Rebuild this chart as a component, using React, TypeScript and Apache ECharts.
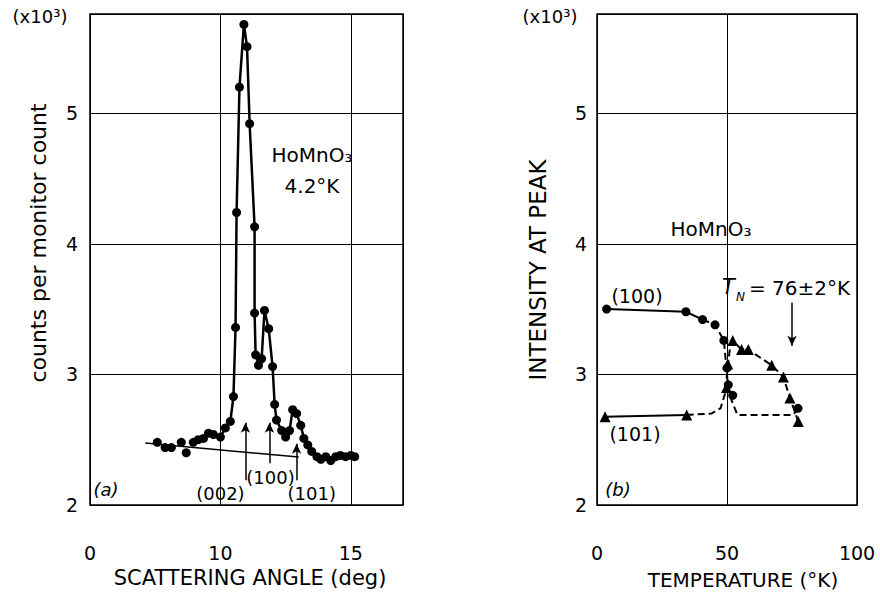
import React, { useEffect, useRef } from "react";
import * as echarts from "echarts";

// ---------- Panel (a): scattering scan ----------
const angleTickValues = [5, 10, 15];
const angleTickLabels = ["0", "10", "15"];
const intensityTickValues = [2, 3, 4, 5];

const scanAngle = [7.58, 7.88, 8.12, 8.5, 8.69, 8.96, 9.15, 9.35, 9.54, 9.73, 10.0, 10.19, 10.38, 10.5, 10.58, 10.62, 10.73, 10.9, 11.02, 11.12, 11.31, 11.31, 11.35, 11.46, 11.58, 11.69, 11.85, 12.0, 12.08, 12.15, 12.35, 12.5, 12.65, 12.77, 12.92, 13.08, 13.2, 13.35, 13.5, 13.7, 13.85, 14.04, 14.23, 14.42, 14.6, 14.8, 15.0, 15.15];
const scanCounts = [2.48, 2.44, 2.44, 2.48, 2.4, 2.48, 2.5, 2.51, 2.55, 2.54, 2.52, 2.59, 2.64, 2.83, 3.36, 4.24, 5.2, 5.68, 5.51, 4.92, 4.13, 3.47, 3.15, 3.07, 3.12, 3.49, 3.35, 3.06, 2.77, 2.65, 2.57, 2.52, 2.57, 2.73, 2.7, 2.61, 2.51, 2.46, 2.41, 2.37, 2.35, 2.37, 2.34, 2.37, 2.38, 2.37, 2.38, 2.37];

// hand-drawn curve through the scan (angle, counts)
const scanCurveAngle = [9.35, 9.54, 9.73, 10.0, 10.19, 10.38, 10.5, 10.58, 10.62, 10.73, 10.9, 11.02, 11.12, 11.31, 11.31, 11.35, 11.46, 11.58, 11.69, 11.85, 12.0, 12.08, 12.15, 12.35, 12.5, 12.65, 12.77, 12.92, 13.08, 13.2, 13.35, 13.5, 13.7, 13.85, 14.04, 14.23, 14.42, 14.6, 14.8, 15.0, 15.15];
const scanCurveCounts = [2.51, 2.55, 2.54, 2.52, 2.59, 2.64, 2.83, 3.36, 4.24, 5.2, 5.68, 5.51, 4.92, 4.13, 3.47, 3.15, 3.07, 3.12, 3.49, 3.35, 3.06, 2.77, 2.65, 2.57, 2.52, 2.57, 2.73, 2.7, 2.61, 2.51, 2.46, 2.41, 2.37, 2.35, 2.37, 2.34, 2.37, 2.38, 2.37, 2.38, 2.37];

const backgroundAngle = [7.12, 13.0];
const backgroundCounts = [2.474, 2.367];

const reflectionNames = ["(002)", "(100)", "(101)"];
const reflectionAngle = [10.96, 11.88, 12.92];
const reflectionArrowFrom = [2.19, 2.32, 2.19];
const reflectionArrowTo = [2.63, 2.63, 2.47];
const reflectionLabelAngle = [10.0, 11.92, 13.5];
const reflectionLabelCounts = [2.09, 2.21, 2.09];

// ---------- Panel (b): temperature dependence ----------
const tempTickValues = [0, 50, 100];

const temp100 = [3.7, 34.2, 40.6, 45.4, 48.8, 50.0, 50.5, 52.2, 77.3];
const peak100 = [3.5, 3.48, 3.42, 3.38, 3.26, 3.05, 2.92, 2.84, 2.74];
const temp101 = [3.1, 34.5, 49.8, 50.3, 52.2, 55.6, 58.2, 67.2, 71.7, 74.2, 77.4];
const peak101 = [2.675, 2.69, 2.9, 3.08, 3.26, 3.19, 3.19, 3.07, 2.98, 2.82, 2.64];

const curve100SolidT = [3.7, 34.2, 40.6];
const curve100SolidI = [3.5, 3.48, 3.42];
const curve100DashT = [40.6, 45.4, 48.8, 50.0, 50.6, 52.2, 54.0, 75.5, 77.3];
const curve100DashI = [3.42, 3.38, 3.26, 3.0, 2.86, 2.78, 2.69, 2.69, 2.74];
const curve101SolidT = [3.1, 34.5];
const curve101SolidI = [2.675, 2.69];
const curve101DashT = [34.5, 44.0, 47.5, 49.2, 50.0, 51.0, 52.2, 55.6, 58.2, 67.2, 71.7, 74.2, 77.4];
const curve101DashI = [2.69, 2.7, 2.74, 2.85, 3.0, 3.18, 3.26, 3.19, 3.19, 3.07, 2.98, 2.82, 2.64];

const neelTemp = 75;
const neelArrowFrom = 3.55;
const neelArrowTo = 3.22;

const zip = (a: number[], b: number[]) => a.map((v, i) => [v, b[i]]);

const FONT = "DejaVu Sans";

export default function App() {
  const ref = useRef<HTMLDivElement>(null);
  useEffect(() => {
    if (!ref.current) return;
    const chart = echarts.init(ref.current, null, { renderer: "svg" });

    const yAxisCommon = (gridIndex: number, margin: number) => ({
      type: "value",
      gridIndex,
      min: 2,
      max: 5.76,
      interval: 1,
      axisLine: { show: false },
      axisTick: { show: false },
      splitLine: { show: true, lineStyle: { color: "#000", width: 1 } },
      axisLabel: {
        margin,
        color: "#000",
        fontFamily: FONT,
        fontSize: 19,
        formatter: (v: number) => (intensityTickValues.includes(v) ? String(v) : ""),
      },
    });

    const text = (x: number, y: number, t: string, extra: any = {}) => ({
      type: "text",
      x,
      y,
      style: {
        text: t,
        fill: "#000",
        font: `${extra.italic ? "italic " : ""}${extra.size || 20}px "${FONT}"`,
        align: extra.align || "center",
        verticalAlign: "middle",
      },
      rotation: extra.rotation || 0,
    });

    chart.setOption({
      animation: false,
      backgroundColor: "#fff",
      grid: [
        { left: 90, top: 14, width: 313, height: 491, show: true, borderColor: "#000", borderWidth: 1.5 },
        { left: 597, top: 14, width: 260, height: 491, show: true, borderColor: "#000", borderWidth: 1.5 },
      ],
      xAxis: [
        {
          type: "value",
          gridIndex: 0,
          min: 5,
          max: 17,
          interval: 5,
          axisLine: { show: false },
          axisTick: { show: false },
          splitLine: { show: true, lineStyle: { color: "#000", width: 1 } },
          axisLabel: {
            margin: 38,
            color: "#000",
            fontFamily: FONT,
            fontSize: 19,
            formatter: (v: number) => {
              const i = angleTickValues.indexOf(v);
              return i >= 0 ? angleTickLabels[i] : "";
            },
          },
        },
        {
          type: "value",
          gridIndex: 1,
          min: 0,
          max: 100,
          interval: 50,
          axisLine: { show: false },
          axisTick: { show: false },
          splitLine: { show: true, lineStyle: { color: "#000", width: 1 } },
          axisLabel: {
            margin: 38,
            color: "#000",
            fontFamily: FONT,
            fontSize: 19,
            formatter: (v: number) => (tempTickValues.includes(v) ? String(v) : ""),
          },
        },
      ],
      yAxis: [yAxisCommon(0, 12), yAxisCommon(1, 10)],
      series: [
        {
          type: "line",
          xAxisIndex: 0,
          yAxisIndex: 0,
          data: zip(backgroundAngle, backgroundCounts),
          symbol: "none",
          lineStyle: { color: "#000", width: 1.5 },
          markLine: {
            silent: true,
            symbol: ["none", "arrow"],
            symbolSize: [7, 10],
            label: { show: false },
            lineStyle: { color: "#000", width: 1.5, type: "solid" },
            data: reflectionAngle.map((a, i) => [
              { coord: [a, reflectionArrowFrom[i]] },
              { coord: [a, reflectionArrowTo[i]] },
            ]),
          },
        },
        {
          type: "line",
          xAxisIndex: 0,
          yAxisIndex: 0,
          data: zip(scanCurveAngle, scanCurveCounts),
          symbol: "none",
          lineStyle: { color: "#000", width: 2.5 },
        },
        {
          type: "scatter",
          xAxisIndex: 0,
          yAxisIndex: 0,
          data: zip(scanAngle, scanCounts),
          symbol: "circle",
          symbolSize: 9,
          itemStyle: { color: "#000", opacity: 1 },
          z: 5,
        },
        {
          type: "scatter",
          xAxisIndex: 0,
          yAxisIndex: 0,
          data: reflectionNames.map((n, i) => ({ value: [reflectionLabelAngle[i], reflectionLabelCounts[i]], name: n })),
          symbolSize: 0,
          itemStyle: { opacity: 1 },
          label: {
            show: true,
            position: "inside",
            formatter: (p: any) => p.name,
            color: "#000",
            opacity: 1,
            fontFamily: FONT,
            fontSize: 18,
          },
        },
        // panel b
        {
          type: "line",
          xAxisIndex: 1,
          yAxisIndex: 1,
          data: zip(curve100SolidT, curve100SolidI),
          symbol: "none",
          lineStyle: { color: "#000", width: 2 },
        },
        {
          type: "line",
          xAxisIndex: 1,
          yAxisIndex: 1,
          data: zip(curve100DashT, curve100DashI),
          symbol: "none",
          lineStyle: { color: "#000", width: 2, type: [7, 4] },
        },
        {
          type: "line",
          xAxisIndex: 1,
          yAxisIndex: 1,
          data: zip(curve101SolidT, curve101SolidI),
          symbol: "none",
          lineStyle: { color: "#000", width: 2 },
        },
        {
          type: "line",
          xAxisIndex: 1,
          yAxisIndex: 1,
          data: zip(curve101DashT, curve101DashI),
          symbol: "none",
          lineStyle: { color: "#000", width: 2, type: [7, 4] },
          markLine: {
            silent: true,
            symbol: ["none", "arrow"],
            symbolSize: [7, 10],
            label: { show: false },
            lineStyle: { color: "#000", width: 1.5, type: "solid" },
            data: [[{ coord: [neelTemp, neelArrowFrom] }, { coord: [neelTemp, neelArrowTo] }]],
          },
        },
        {
          type: "scatter",
          xAxisIndex: 1,
          yAxisIndex: 1,
          data: zip(temp100, peak100),
          symbol: "circle",
          symbolSize: 9,
          itemStyle: { color: "#000", opacity: 1 },
          z: 5,
        },
        {
          type: "scatter",
          xAxisIndex: 1,
          yAxisIndex: 1,
          data: zip(temp101, peak101),
          symbol: "triangle",
          symbolSize: 11,
          itemStyle: { color: "#000", opacity: 1 },
          z: 5,
        },
      ],
      graphic: [
        text(40, 16, "(x10³)", { size: 18 }),
        text(550, 16, "(x10³)", { size: 18 }),
        text(38, 243, "counts per monitor count", { rotation: Math.PI / 2, size: 22 }),
        text(538, 270, "INTENSITY AT PEAK", { rotation: Math.PI / 2, size: 23 }),
        text(250, 578, "SCATTERING ANGLE (deg)", { size: 21 }),
        text(743, 580, "TEMPERATURE (°K)", { size: 20 }),
        text(312, 155, "HoMnO₃", { size: 20 }),
        text(312, 186, "4.2°K", { size: 20 }),
        text(106, 489, "(a)", { size: 18, italic: true }),
        text(618, 489, "(b)", { size: 18, italic: true }),
        text(711, 229, "HoMnO₃", { size: 20 }),
        text(637, 296, "(100)", { size: 19 }),
        text(635, 434, "(101)", { size: 19 }),
        text(722, 287, "T", { size: 21, italic: true, align: "left" }),
        text(736, 297, "N", { size: 12, italic: true, align: "left" }),
        text(749, 288, "= 76±2°K", { size: 20, align: "left" }),
      ],
    });
    return () => chart.dispose();
  }, []);
  return (
    <div
      ref={ref}
      style={{ position: "fixed", left: 0, top: 0, width: 880, height: 600, background: "#fff" }}
    />
  );
}
